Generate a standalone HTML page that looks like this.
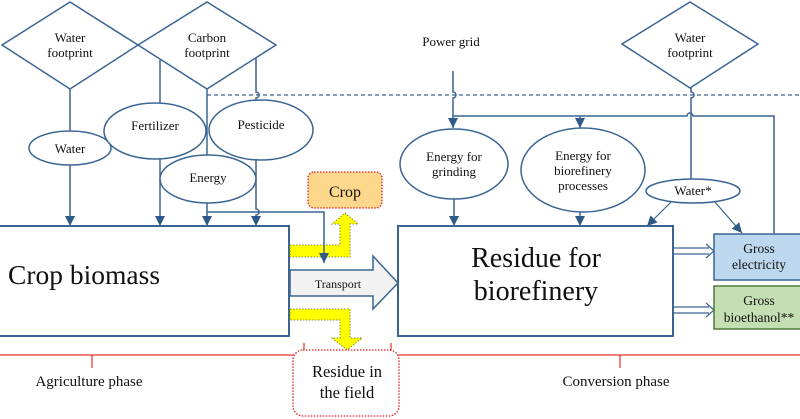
<!DOCTYPE html>
<html><head><meta charset="utf-8"><style>
html,body{margin:0;padding:0;background:#fff;}
svg{display:block;font-family:"Liberation Serif",serif;}
</style></head><body>
<svg width="800" height="419" viewBox="0 0 800 419" xmlns="http://www.w3.org/2000/svg">
<defs>
<marker id="b" markerWidth="10" markerHeight="10" refX="10" refY="5" orient="auto" markerUnits="userSpaceOnUse" viewBox="0 0 10 10"><path d="M0,0 L10,5 L0,10 z" fill="#2f5a87"/></marker>
</defs>
<g fill="none" stroke="#3a6592" stroke-width="1.5">
<polygon points="2,45 70,2 138,45 70,89" fill="#fff"/>
<polygon points="138,45 207,2 276,45 207,89" fill="#fff"/>
<polygon points="622,44 690,2 758,44 690,88" fill="#fff"/>
<path d="M207,95 H800" stroke-dasharray="4,3" stroke-width="1.2"/>
<path d="M70,89 V131"/>
<path d="M70,165 V226" marker-end="url(#b)"/>
<path d="M160,60 V104"/>
<path d="M160,159 V226" marker-end="url(#b)"/>
<path d="M256,58 V92 a3,3 0 0 1 0,6 V101"/>
<path d="M256,160 V209 a3,3 0 0 1 0,6 V226" marker-end="url(#b)"/>
<path d="M207,89 V155"/>
<path d="M207,203 V226" marker-end="url(#b)"/>
<ellipse cx="70" cy="148" rx="41" ry="17" fill="#fff"/>
<ellipse cx="155" cy="131" rx="51" ry="28" fill="#fff"/>
<ellipse cx="261" cy="130" rx="52" ry="30" fill="#fff"/>
<ellipse cx="208" cy="179" rx="48" ry="24" fill="#fff"/>
<path d="M453,71 V92 a3,3 0 0 1 0,6 V128" marker-end="url(#b)"/>
<path d="M453,116 H687 a3,3 0 0 1 6,0 H774 V234"/>
<path d="M580,116 V128" marker-end="url(#b)"/>
<path d="M691,88 V92 a3,3 0 0 1 0,6 V180"/>
<path d="M454,199 V226" marker-end="url(#b)"/>
<path d="M580,211 V226" marker-end="url(#b)"/>
<path d="M672,201 L647,226" marker-end="url(#b)" stroke-width="1.2"/>
<path d="M714,201 L742,233" marker-end="url(#b)" stroke-width="1.2"/>
<ellipse cx="454" cy="164" rx="54" ry="35" fill="#fff"/>
<ellipse cx="583" cy="170" rx="62" ry="42" fill="#fff"/>
<ellipse cx="693" cy="191" rx="47" ry="12" fill="#fff"/>
<rect x="-5" y="226" width="294" height="110" stroke-width="2" fill="#fff"/>
<rect x="398" y="226" width="275" height="110" stroke-width="2" fill="#fff"/>
<path d="M290,270 H373 V256 L398,283 L373,309 V296 H290 Z" fill="#f2f2f2"/>
<path d="M673,248 H709 M673,254 H709 M706,244 L714,251 L706,258" stroke-width="1.2"/>
<path d="M673,307 H709 M673,313 H709 M706,303 L714,310 L706,317" stroke-width="1.2"/>
</g>
<rect x="714" y="234" width="92" height="46" fill="#bdd7ee" stroke="#3a6592" stroke-width="1.5"/>
<rect x="714" y="286" width="92" height="43" fill="#c5dfb4" stroke="#4f7a3a" stroke-width="1.5"/>
<path d="M290,245 H340 V224 H332 L345,213 L358,224 H350 V257 H290 Z" fill="#ffff00" stroke="#8a8a30" stroke-width="1" stroke-dasharray="1.5,1.5"/>
<path d="M290,309 H350 V338 H362 L347,350 L332,338 H340 V320 H290 Z" fill="#ffff00" stroke="#8a8a30" stroke-width="1" stroke-dasharray="1.5,1.5"/>
<path d="M207,212 H324 V263" fill="none" stroke="#3a6592" stroke-width="1.5" marker-end="url(#b)"/>
<rect x="308" y="172" width="74" height="36" rx="6" fill="#fdd88c" stroke="#e02020" stroke-width="1.3" stroke-dasharray="1.5,1.5"/>
<g fill="none" stroke="#e8302a" stroke-width="1.2">
<path d="M0,355 H800"/>
<path d="M92,355 V368 M304,355 V343 M391,355 V343 M620,355 V368"/>
</g>
<rect x="293" y="350" width="106" height="66" rx="10" fill="#fff" stroke="#e02020" stroke-width="1.3" stroke-dasharray="1.5,1.5"/>
<g fill="#111" font-size="13" text-anchor="middle">
<text x="70" y="42">Water</text><text x="70" y="57">footprint</text>
<text x="207" y="42">Carbon</text><text x="207" y="57">footprint</text>
<text x="690" y="42">Water</text><text x="690" y="57">footprint</text>
<text x="70" y="153">Water</text>
<text x="155" y="130">Fertilizer</text>
<text x="261" y="129">Pesticide</text>
<text x="208" y="182">Energy</text>
<text x="451" y="46">Power grid</text>
<text x="454" y="161">Energy for</text><text x="454" y="176">grinding</text>
<text x="583" y="160">Energy for</text><text x="583" y="175">biorefinery</text><text x="583" y="190">processes</text>
<text x="693" y="195">Water*</text>
<text x="338" y="288" font-size="12">Transport</text>
<text x="759" y="253" font-size="13.5">Gross</text><text x="759" y="269" font-size="13.5">electricity</text>
<text x="759" y="305" font-size="13.5">Gross</text><text x="759" y="322" font-size="13.5">bioethanol**</text>
<text x="89" y="386" font-size="15">Agriculture phase</text>
<text x="616" y="386" font-size="15">Conversion phase</text>
<text x="347" y="377" font-size="16.5">Residue in</text><text x="347" y="398" font-size="16.5">the field</text>
<text x="345" y="197" font-size="16">Crop</text>
<text x="536" y="267" font-size="28">Residue for</text>
<text x="536" y="300" font-size="28">biorefinery</text>
<text x="8" y="284" font-size="27.5" text-anchor="start">Crop biomass</text>
</g>
</svg>
</body></html>
